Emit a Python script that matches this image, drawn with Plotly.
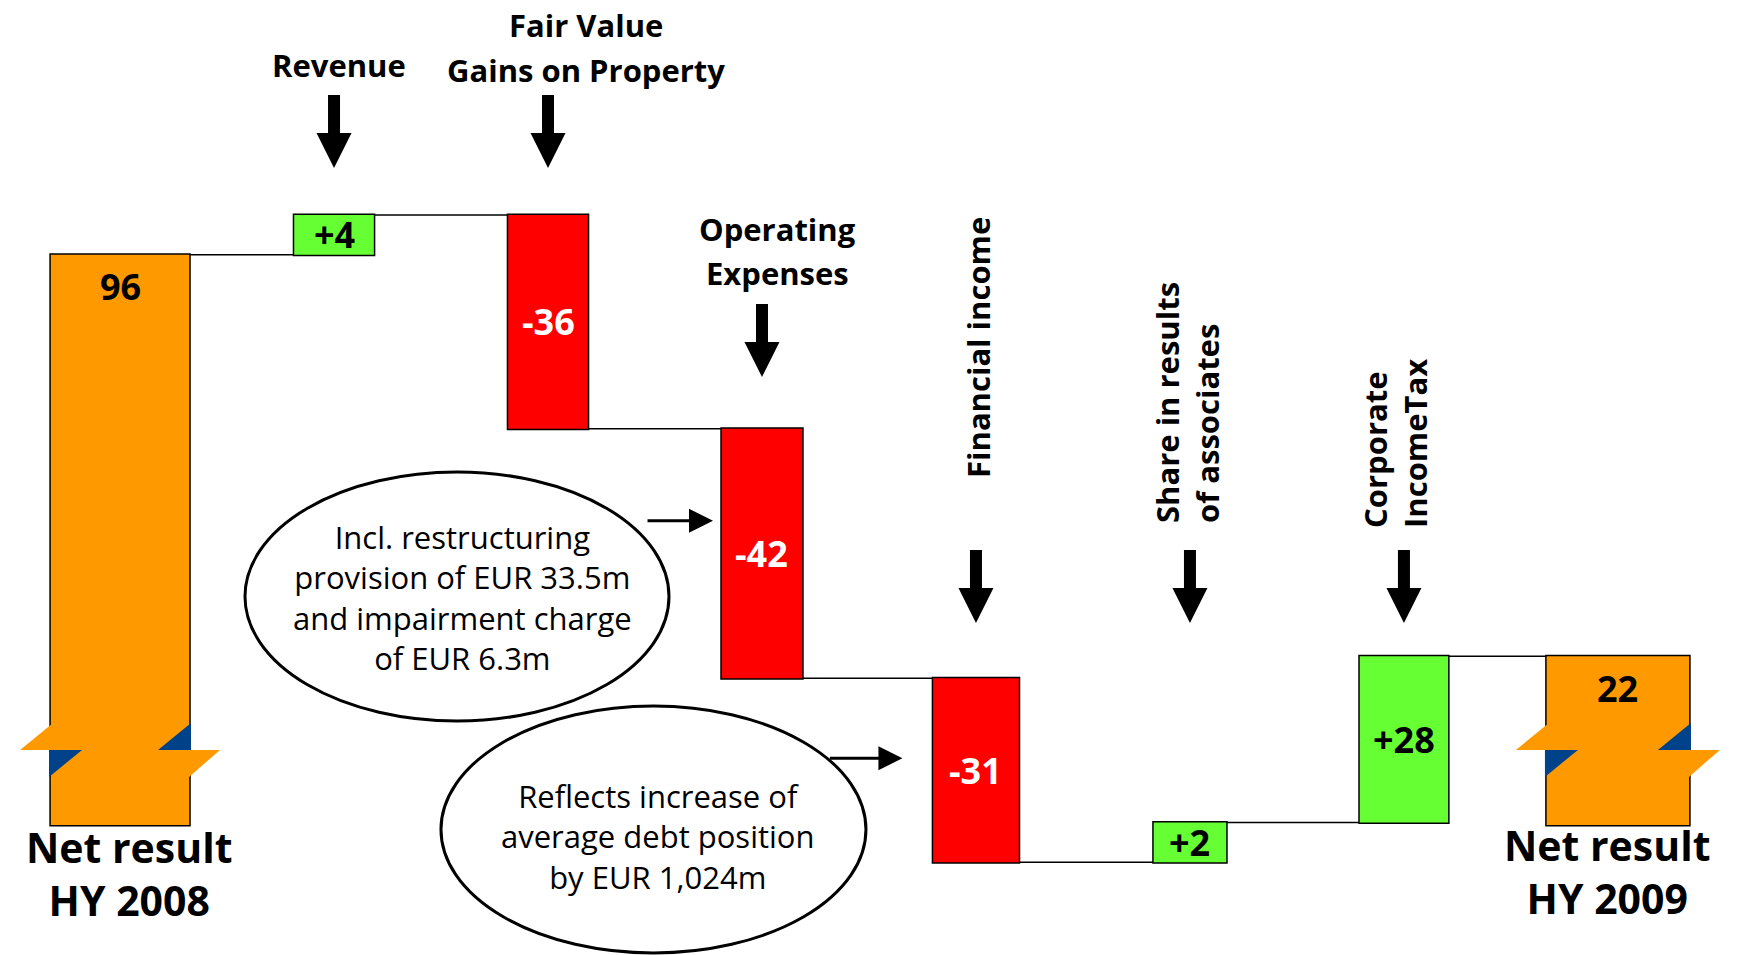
import plotly.graph_objects as go

# ---------------- data ----------------
CATEGORIES = ["Net result HY 2008", "Revenue", "Fair Value Gains on Property", "Operating Expenses",
              "Financial income", "Share in results of associates", "Corporate IncomeTax",
              "Net result HY 2009"]
VALUES = [96, 4, -36, -42, -31, 2, 28, 22]
MEASURES = ["absolute", "relative", "relative", "relative", "relative", "relative", "relative", "total"]
VALUE_LABELS = ["96", "+4", "-36", "-42", "-31", "+2", "+28", "22"]
TOP_LABELS = [["Revenue"], ["Fair Value", "Gains on Property"], ["Operating", "Expenses"]]
SIDE_LABELS = ["Financial income", "Share in results<br>of associates", "Corporate<br>IncomeTax"]
BOTTOM_LABELS = ["Net result<br>HY 2008", "Net result<br>HY 2009"]
NOTES = ["Incl. restructuring<br>provision of EUR 33.5m<br>and impairment charge<br>of EUR 6.3m",
         "Reflects increase of<br>average debt position<br>by EUR 1,024m"]

# ---------------- style / layout ----------------
W, H = 1763, 955
X_RANGE = [-0.561, 7.678]
Y_RANGE = [-21.9, 138.9]
PX_PER_CAT = W / (X_RANGE[1] - X_RANGE[0])
BAR_W = [0.654, 0.379, 0.379, 0.383, 0.407, 0.346, 0.42, 0.673]
MIN_STEP = 6.7  # smallest drawn step so that a label fits inside

GREEN, RED, ORANGE, BLUE = "#66FF33", "#FF0000", "#FF9900", "#00428A"
FONT = "Open Sans"


def py(px):
    return 1 - px / H


def drawn_step(v, m):
    if m == "relative" and abs(v) < MIN_STEP:
        return MIN_STEP if v > 0 else -MIN_STEP
    return v


y_drawn = [drawn_step(v, m) for v, m in zip(VALUES, MEASURES)]

bottoms, tops = [], []
run = 0
for d, m in zip(y_drawn, MEASURES):
    if m == "absolute":
        run = d
        bottoms.append(0)
        tops.append(d)
    elif m == "relative":
        lo, hi = sorted([run, run + d])
        bottoms.append(lo)
        tops.append(hi)
        run += d
    else:
        bottoms.append(0)
        tops.append(run)

line = dict(color="black", width=1.5)
fig = go.Figure(go.Waterfall(
    x=CATEGORIES, y=y_drawn, measure=MEASURES, width=BAR_W,
    increasing=dict(marker=dict(color=GREEN, line=line)),
    decreasing=dict(marker=dict(color=RED, line=line)),
    totals=dict(marker=dict(color=ORANGE, line=line)),
    connector=dict(mode="between", line=dict(color="black", width=1.5)),
    textinfo="none", hoverinfo="skip",
))

annotations = []
shapes = []


def add_lines(lines, idx, xshift, ys_px, size, bold):
    for txt, ypx in zip(lines, ys_px):
        annotations.append(dict(x=idx, y=py(ypx), yref="paper", xshift=xshift, text=txt,
                                showarrow=False, xanchor="center", yanchor="middle",
                                font=dict(family=FONT, size=size, color="black",
                                          weight="bold" if bold else "normal")))


# value labels
for i, (lab, m, v) in enumerate(zip(VALUE_LABELS, MEASURES, VALUES)):
    if m == "relative":
        y = (bottoms[i] + tops[i]) / 2
        ys = 0
    else:
        y = tops[i]
        ys = -32
    annotations.append(dict(x=i, y=y, yshift=ys, text=lab, showarrow=False,
                            xanchor="center", yanchor="middle",
                            font=dict(family=FONT, size=36, weight="bold",
                                      color="white" if (m == "relative" and v < 0) else "black")))

# header labels (horizontal)
add_lines(TOP_LABELS[0], 1, 5, [65], 31, True)
add_lines(TOP_LABELS[1], 2, 38, [25, 70], 31, True)
add_lines(TOP_LABELS[2], 3, 16, [229, 273], 31, True)

# rotated labels
for idx, txt, ypx, xs in [(4, SIDE_LABELS[0], 347, 2), (5, SIDE_LABELS[1], 402, -3), (6, SIDE_LABELS[2], 443, -9)]:
    annotations.append(dict(x=idx, y=py(ypx), yref="paper", xshift=xs, text=txt, showarrow=False,
                            textangle=-90, xanchor="center", yanchor="middle", align="left",
                            font=dict(family=FONT, size=31, weight="bold", color="black")))

# bottom labels
for idx, txt, ypx, xs in [(0, BOTTOM_LABELS[0], 873, 9), (7, BOTTOM_LABELS[1], 871, -11)]:
    annotations.append(dict(x=idx, y=py(ypx), yref="paper", xshift=xs, text=txt, showarrow=False,
                            xanchor="center", yanchor="middle", align="center",
                            font=dict(family=FONT, size=41, weight="bold", color="black")))

# notes in ellipses
for idx, txt, ypx, xs, ex0, ex1, ey0, ey1 in [
        (3, NOTES[0], 597, -299, -517, -93, 472, 721),
        (4, NOTES[1], 836, -318, -535, -110, 706, 953)]:
    shapes.append(dict(type="circle", xref="x", xsizemode="pixel", xanchor=idx, x0=ex0, x1=ex1,
                       yref="paper", y0=py(ey1), y1=py(ey0),
                       line=dict(color="black", width=3), fillcolor="white", layer="above"))
    annotations.append(dict(x=idx, y=py(ypx), yref="paper", xshift=xs, text=txt, showarrow=False,
                            xanchor="center", yanchor="middle", align="center",
                            font=dict(family=FONT, size=31, color="black")))

# thin arrows from notes to bars
for idx, yoff, gap, length in [(3, -92, 8, 67), (4, -80, 30, 74)]:
    half = BAR_W[idx] * PX_PER_CAT / 2
    annotations.append(dict(x=idx, y=tops[idx], yshift=yoff, xshift=-(half + gap), text="",
                            showarrow=True, ax=-length, ay=0, arrowhead=2, arrowsize=1.6,
                            arrowwidth=3, arrowcolor="black"))

# thick down arrows
ARROW_PATH = "M -6,73 L 6,73 L 6,35 L 17.5,35 L 0,0 L -17.5,35 L -6,35 Z"
for idx, tip in [(1, 168), (2, 168), (3, 377), (4, 623), (5, 623), (6, 623)]:
    shapes.append(dict(type="path", xref="x", xsizemode="pixel", xanchor=idx,
                       yref="paper", ysizemode="pixel", yanchor=py(tip),
                       path=ARROW_PATH, fillcolor="black", line=dict(width=0), layer="above"))

# break marks on the total bars
for idx in [0, 7]:
    h = BAR_W[idx] * PX_PER_CAT / 2
    common = dict(type="path", xref="x", xsizemode="pixel", xanchor=idx,
                  yref="y", ysizemode="pixel", yanchor=0, line=dict(width=0), layer="above")
    shapes.append(dict(common, fillcolor=ORANGE,
                       path=f"M {-h+3},102 L {-h-30},75 L {-h+32},75 Z"))
    shapes.append(dict(common, fillcolor=BLUE,
                       path=f"M {-h-1},75 L {-h+32},75 L {-h-1},48 Z"))
    shapes.append(dict(common, fillcolor=BLUE,
                       path=f"M {h+1},102 L {h+1},75 L {h-32},75 Z"))
    shapes.append(dict(common, fillcolor=ORANGE,
                       path=f"M {h-32},75 L {h+30},75 L {h-1},48 Z"))

fig.update_layout(
    width=W, height=H, margin=dict(l=0, r=0, t=0, b=0, pad=0),
    paper_bgcolor="white", plot_bgcolor="white", showlegend=False,
    xaxis=dict(visible=False, range=X_RANGE, type="category"),
    yaxis=dict(visible=False, range=Y_RANGE),
    annotations=annotations, shapes=shapes,
)

fig.write_html("out.html", config={"displayModeBar": False, "staticPlot": True},
               post_script="document.body.style.margin='0';document.body.style.overflow='hidden';")
